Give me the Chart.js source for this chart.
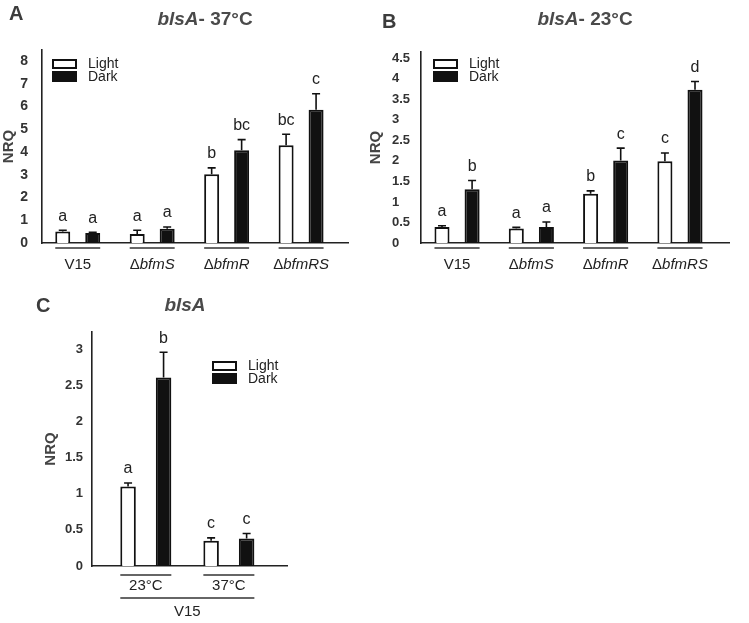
<!DOCTYPE html>
<html>
<head>
<meta charset="utf-8">
<script src="https://cdn.jsdelivr.net/npm/chart.js@4.4.0/dist/chart.umd.min.js"></script>
<style>
    html, body { margin: 0; padding: 0; background: #fff; }
    #wrap { position: relative; width: 749px; height: 623px; overflow: hidden; }
    canvas { position: absolute; }
</style>
</head>
<body>
<div id="wrap">
    <canvas id="panelA" width="370" height="290" style="left:0;top:0"></canvas>
    <canvas id="panelB" width="379" height="290" style="left:370px;top:0"></canvas>
    <canvas id="panelC" width="370" height="333" style="left:0;top:290px"></canvas>
</div>
<script>
// ---- data ----
const STRAINS = ['V15', 'ΔbfmS', 'ΔbfmR', 'ΔbfmRS'];
const TEMPS = ['23°C', '37°C'];

// A: blsA at 37°C
const A_LIGHT = [0.51, 0.40, 3.02, 4.29];
const A_LIGHT_ERR = [0.05, 0.16, 0.28, 0.49];
const A_DARK = [0.44, 0.63, 4.07, 5.86];
const A_DARK_ERR = [0.03, 0.07, 0.47, 0.70];
const A_LIGHT_SIG = ['a', 'a', 'b', 'bc'];
const A_DARK_SIG = ['a', 'a', 'bc', 'c'];
const A_TICKS = [0, 1, 2, 3, 4, 5, 6, 7, 8];

// B: blsA at 23°C
const B_LIGHT = [0.39, 0.35, 1.20, 1.99];
const B_LIGHT_ERR = [0.03, 0.03, 0.07, 0.20];
const B_DARK = [1.31, 0.39, 2.01, 3.73];
const B_DARK_ERR = [0.21, 0.12, 0.30, 0.20];
const B_LIGHT_SIG = ['a', 'a', 'b', 'c'];
const B_DARK_SIG = ['b', 'a', 'c', 'd'];
const B_TICKS = [0, 0.5, 1, 1.5, 2, 2.5, 3, 3.5, 4, 4.5];

// C: blsA in V15, 23°C vs 37°C
const C_LIGHT = [1.10, 0.35];
const C_LIGHT_ERR = [0.05, 0.04];
const C_DARK = [2.61, 0.38];
const C_DARK_ERR = [0.35, 0.07];
const C_LIGHT_SIG = ['a', 'c'];
const C_DARK_SIG = ['b', 'c'];
const C_TICKS = [0, 0.5, 1, 1.5, 2, 2.5, 3];

const FONT = '"Liberation Sans", Arial, sans-serif';
const INK = '#111';

// draws "Δ" upright and the gene name in italics, centred on cx
function drawStrain(ctx, text, cx, cy, size) {
    const head = text.startsWith('Δ') ? 'Δ' : text;
    const tail = text.startsWith('Δ') ? text.slice(1) : '';
    const f1 = size + 'px ' + FONT;
    const f2 = 'italic ' + size + 'px ' + FONT;
    ctx.font = f1;
    const w1 = ctx.measureText(head).width;
    ctx.font = f2;
    const w2 = ctx.measureText(tail).width;
    let x = cx - (w1 + w2) / 2;
    ctx.textAlign = 'left';
    ctx.font = f1;
    ctx.fillText(head, x, cy);
    ctx.font = f2;
    ctx.fillText(tail, x + w1, cy);
}

function decor(cfg) {
    return {
        id: 'panelDecor',
        afterDatasetsDraw(chart) {
            const { ctx, chartArea, scales: { y } } = chart;
            ctx.save();
            ctx.textBaseline = 'middle';

            // error bars (upper only) and significance letters
            chart.data.datasets.forEach((ds, d) => {
                const meta = chart.getDatasetMeta(d);
                meta.data.forEach((bar, i) => {
                    const top = y.getPixelForValue(ds.data[i].y + ds.err[i]);
                    ctx.strokeStyle = INK;
                    ctx.lineWidth = 1.6;
                    ctx.beginPath();
                    ctx.moveTo(bar.x, bar.y);
                    ctx.lineTo(bar.x, top);
                    ctx.moveTo(bar.x - 4, top);
                    ctx.lineTo(bar.x + 4, top);
                    ctx.stroke();
                    ctx.fillStyle = '#222';
                    ctx.font = '16px ' + FONT;
                    ctx.textAlign = 'center';
                    ctx.fillText(ds.sig[i], bar.x, top - 14);
                });
            });

            // group underlines and labels
            const m0 = chart.getDatasetMeta(0);
            const m1 = chart.getDatasetMeta(1);
            const bottom = chartArea.bottom;
            ctx.strokeStyle = '#333';
            ctx.fillStyle = '#222';
            ctx.lineWidth = 1.5;
            cfg.groups.forEach((g, i) => {
                const x1 = m0.data[i].x - m0.data[i].width / 2;
                const x2 = m1.data[i].x + m1.data[i].width / 2;
                ctx.beginPath();
                ctx.moveTo(x1, bottom + cfg.lineGap);
                ctx.lineTo(x2, bottom + cfg.lineGap);
                ctx.stroke();
                drawStrain(ctx, g, (x1 + x2) / 2, bottom + cfg.labelGap, 15);
            });
            if (cfg.outer) {
                const n = cfg.groups.length - 1;
                const x1 = m0.data[0].x - m0.data[0].width / 2;
                const x2 = m1.data[n].x + m1.data[n].width / 2;
                ctx.beginPath();
                ctx.moveTo(x1, bottom + cfg.outerLineGap);
                ctx.lineTo(x2, bottom + cfg.outerLineGap);
                ctx.stroke();
                drawStrain(ctx, cfg.outer, (x1 + x2) / 2, bottom + cfg.outerLabelGap, 15);
            }

            // legend
            const lx = chartArea.left + cfg.legend.dx;
            const ly = chartArea.top + cfg.legend.dy;
            ctx.lineWidth = 2;
            ctx.strokeStyle = INK;
            ctx.fillStyle = '#fff';
            ctx.fillRect(lx + 1, ly + 1, 23, 8);
            ctx.strokeRect(lx + 1, ly + 1, 23, 8);
            ctx.fillStyle = INK;
            ctx.fillRect(lx, ly + 12, 25, 11);
            ctx.fillStyle = '#222';
            ctx.font = '14px ' + FONT;
            ctx.textAlign = 'left';
            ctx.fillText('Light', lx + 36, ly + 5);
            ctx.fillText('Dark', lx + 36, ly + 18);

            // y-axis title
            ctx.save();
            ctx.translate(cfg.yTitleX, (chartArea.top + chartArea.bottom) / 2);
            ctx.rotate(-Math.PI / 2);
            ctx.textAlign = 'center';
            ctx.fillStyle = '#444';
            ctx.font = 'bold 15px ' + FONT;
            ctx.fillText('NRQ', 0, 0);
            ctx.restore();

            // panel title and letter
            ctx.fillStyle = '#4a4a4a';
            ctx.font = 'italic bold 19px ' + FONT;
            const wi = ctx.measureText(cfg.title.italic).width;
            ctx.font = 'bold 19px ' + FONT;
            const wr = ctx.measureText(cfg.title.rest).width;
            const tx = cfg.title.x - (wi + wr) / 2;
            ctx.textAlign = 'left';
            ctx.font = 'italic bold 19px ' + FONT;
            ctx.fillText(cfg.title.italic, tx, cfg.title.y);
            ctx.font = 'bold 19px ' + FONT;
            ctx.fillText(cfg.title.rest, tx + wi, cfg.title.y);
            ctx.fillStyle = '#3c3c3c';
            ctx.font = 'bold 20px ' + FONT;
            ctx.fillText(cfg.letter.text, cfg.letter.x, cfg.letter.y);
            ctx.restore();
        }
    };
}

function makePanel(id, cfg) {
    const ctx = document.getElementById(id).getContext('2d');
    const bar = (label, values, err, sig, fill) => ({
        label: label,
        data: values.map((v, i) => ({ x: i + 1, y: v })),
        err: err,
        sig: sig,
        backgroundColor: fill,
        borderColor: INK,
        borderWidth: 2,
        categoryPercentage: cfg.catPct,
        barPercentage: cfg.barPct
    });
    return new Chart(ctx, {
        type: 'bar',
        data: {
            datasets: [
                bar('Light', cfg.light, cfg.lightErr, cfg.lightSig, '#fff'),
                bar('Dark', cfg.dark, cfg.darkErr, cfg.darkSig, INK)
            ]
        },
        options: {
            responsive: false,
            animation: false,
            layout: { padding: cfg.padding },
            plugins: { legend: { display: false }, tooltip: { enabled: false } },
            scales: {
                x: {
                    type: 'linear',
                    offset: false,
                    min: cfg.xMin,
                    max: cfg.xMax,
                    grid: { display: false, drawTicks: false },
                    ticks: { display: false },
                    border: { color: '#222', width: 1.6 },
                    afterBuildTicks: s => { s.ticks = cfg.groups.map((g, i) => ({ value: i + 1 })); }
                },
                y: {
                    min: 0,
                    max: cfg.yMax,
                    grid: { display: false, drawTicks: false },
                    border: { color: '#222', width: 1.6 },
                    ticks: {
                        color: '#333',
                        padding: cfg.tickPad,
                        crossAlign: cfg.tickAlign,
                        font: { family: FONT, size: cfg.tickSize, weight: 'bold' },
                        callback: v => String(v)
                    },
                    afterBuildTicks: s => { s.ticks = cfg.ticks.map(v => ({ value: v })); },
                    afterFit: s => { s.width = cfg.yWidth; }
                }
            }
        },
        plugins: [decor(cfg)]
    });
}

makePanel('panelA', {
    groups: STRAINS,
    light: A_LIGHT, lightErr: A_LIGHT_ERR, lightSig: A_LIGHT_SIG,
    dark: A_DARK, darkErr: A_DARK_ERR, darkSig: A_DARK_SIG,
    ticks: A_TICKS, yMax: 8.48, xMin: 0.52, xMax: 4.63,
    catPct: 0.805, barPct: 0.5,
    padding: { left: 0, top: 50, right: 22, bottom: 47 },
    yWidth: 42, tickPad: 14, tickAlign: 'near', tickSize: 14,
    lineGap: 5, labelGap: 22,
    legend: { dx: 10, dy: 9 },
    yTitleX: 9,
    title: { italic: 'blsA', rest: '- 37°C', x: 205, y: 20 },
    letter: { text: 'A', x: 9, y: 14 }
});

makePanel('panelB', {
    groups: STRAINS,
    light: B_LIGHT, lightErr: B_LIGHT_ERR, lightSig: B_LIGHT_SIG,
    dark: B_DARK, darkErr: B_DARK_ERR, darkSig: B_DARK_SIG,
    ticks: B_TICKS, yMax: 4.65, xMin: 0.515, xMax: 4.66,
    catPct: 0.81, barPct: 0.5,
    padding: { left: 22, top: 52, right: 20, bottom: 47 },
    yWidth: 29, tickPad: 8, tickAlign: 'far', tickSize: 13,
    lineGap: 5, labelGap: 22,
    legend: { dx: 12, dy: 7 },
    yTitleX: 6,
    title: { italic: 'blsA', rest: '- 23°C', x: 215, y: 20 },
    letter: { text: 'B', x: 12, y: 22 }
});

makePanel('panelC', {
    groups: TEMPS,
    outer: 'V15',
    light: C_LIGHT, lightErr: C_LIGHT_ERR, lightSig: C_LIGHT_SIG,
    dark: C_DARK, darkErr: C_DARK_ERR, darkSig: C_DARK_SIG,
    ticks: C_TICKS, yMax: 3.24, xMin: 0.352, xMax: 2.70,
    catPct: 0.855, barPct: 0.437,
    padding: { left: 0, top: 42, right: 83, bottom: 57 },
    yWidth: 92, tickPad: 9, tickAlign: 'near', tickSize: 13,
    lineGap: 9, labelGap: 20, outerLineGap: 32, outerLabelGap: 46,
    legend: { dx: 120, dy: 29 },
    yTitleX: 51,
    title: { italic: 'blsA', rest: '', x: 185, y: 16 },
    letter: { text: 'C', x: 36, y: 16 }
});
</script>
</body>
</html>
